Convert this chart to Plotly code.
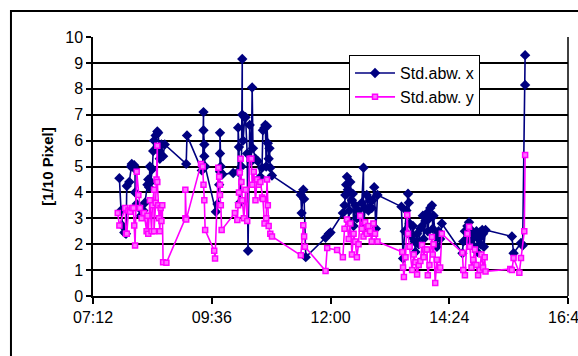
import plotly.graph_objects as go

DAY = "2024-01-01 "

# Std.abw. x  (time, value)
x_times = ["07:44","07:46","07:48","07:50","07:52","07:53","07:56","07:58","07:59","08:02","08:03","08:03",
           "08:05","08:08","08:10","08:13","08:15","08:18","08:19","08:20","08:21","08:22","08:24","08:25",
           "08:26","08:28","08:30","08:31","08:32","08:33","08:35","08:37","08:39","09:05","09:06","09:24",
           "09:25","09:26","09:26","09:27","09:27","09:28","09:41","09:43","09:45","09:46","09:46","09:46",
           "09:47","09:49","10:02","10:08","10:08","10:09","10:10","10:12","10:13","10:13","10:14","10:16",
           "10:17","10:19","10:20","10:22","10:24","10:25","10:26","10:29","10:32","10:35","10:37","10:38",
           "10:40","10:41","10:42","10:43","10:44","10:45","10:46","10:47","10:49","11:24","11:25","11:27",
           "11:28","11:30","11:54","11:58","12:00","12:15","12:17","12:18","12:19","12:20","12:21","12:22",
           "12:23","12:24","12:26","12:27","12:28","12:30","12:32","12:34","12:36","12:38","12:40","12:40",
           "12:42","12:44","12:46","12:48","12:50","12:51","12:53","12:55","12:57","13:26","13:28","13:30",
           "13:32","13:34","13:35","13:36","13:38","13:40","13:42","13:43","13:45","13:47","13:49","13:51",
           "13:52","13:53","13:55","13:57","13:58","14:00","14:01","14:03","14:04","14:05","14:07","14:09",
           "14:11","14:13","14:15","14:40","14:41","14:43","14:45","14:46","14:48","14:49","14:51","14:52",
           "14:54","14:55","14:57","14:58","15:00","15:01","15:02","15:04","15:05","15:06","15:08","15:40",
           "15:42","15:51","15:53","15:56","15:56"]
x_vals = [4.55,3.3,2.7,2.45,2.4,4.25,4.4,5.0,5.1,5.05,4.9,4.0,
          3.55,3.4,3.1,3.3,3.6,4.3,4.5,4.2,5.0,4.4,4.9,5.6,
          6.0,6.2,6.35,6.3,5.6,5.3,5.85,5.4,5.85,5.1,6.2,4.85,
          5.0,7.1,6.4,5.85,5.4,5.0,3.25,3.55,4.3,4.8,5.5,6.3,
          5.0,4.7,4.75,4.8,6.5,5.75,3.6,5.0,9.15,7.0,6.0,6.9,
          6.9,5.5,1.75,6.6,5.2,8.05,5.7,5.3,5.2,4.6,4.95,6.4,
          6.5,6.6,5.0,6.55,5.9,5.3,5.7,4.95,4.65,3.9,3.2,4.1,
          3.75,1.5,2.25,2.4,2.45,3.2,3.5,3.9,4.3,4.6,4.1,2.9,
          3.3,4.4,3.7,3.95,2.7,3.5,3.0,3.3,3.0,3.6,4.95,2.65,
          3.4,3.9,3.3,3.7,3.4,3.7,4.2,2.6,3.9,3.45,1.45,2.5,
          3.3,3.95,3.6,2.8,2.3,2.7,2.1,1.7,2.4,2.0,2.6,2.7,
          3.1,2.2,2.9,3.2,2.5,3.0,3.4,3.5,2.6,3.1,2.3,1.9,
          2.5,2.2,2.8,1.65,2.1,2.5,2.2,2.7,2.85,2.6,2.0,2.35,
          1.9,2.3,2.5,1.7,2.2,2.45,2.0,2.55,2.4,1.9,2.55,2.3,
          1.65,2.05,1.95,8.15,9.3]

# Std.abw. y  (time, value)
y_times = ["07:42","07:44","07:51","07:52","07:53","07:55","07:57","07:59","08:01","08:02","08:03","08:05",
           "08:07","08:09","08:11","08:14","08:17","08:18","08:19","08:21","08:23","08:24","08:26","08:26",
           "08:28","08:29","08:30","08:30","08:31","08:32","08:33","08:34","08:35","08:36","08:37","08:41",
           "09:04","09:04","09:05","09:23","09:25","09:26","09:27","09:28","09:39","09:40","09:44","09:45",
           "09:46","09:46","09:47","09:48","10:04","10:07","10:08","10:09","10:10","10:11","10:12","10:13",
           "10:15","10:17","10:19","10:22","10:24","10:25","10:27","10:29","10:31","10:33","10:35","10:37",
           "10:38","10:40","10:42","10:43","10:44","10:45","10:47","10:49","11:24","11:27","11:28","11:29",
           "11:54","11:56","12:08","12:15","12:17","12:20","12:22","12:24","12:26","12:28","12:30","12:32",
           "12:34","12:36","12:38","12:40","12:42","12:44","12:46","12:48","12:50","12:52","12:54","12:57",
           "13:27","13:28","13:29","13:31","13:33","13:34","13:36","13:39","13:41","13:43","13:45","13:47",
           "13:49","13:51","13:53","13:55","13:57","13:58","14:00","14:03","14:04","14:05","14:07","14:09",
           "14:11","14:13","14:15","14:40","14:41","14:43","14:46","14:48","14:49","14:51","14:53","14:55",
           "14:57","14:59","15:01","15:03","15:05","15:07","15:08","15:38","15:40","15:42","15:49","15:51",
           "15:55","15:56"]
y_vals = [3.2,2.72,3.4,2.4,2.4,3.3,3.25,3.4,3.4,2.72,1.95,4.8,
          3.9,3.4,3.0,3.2,2.5,3.1,2.4,3.7,2.5,3.5,4.1,2.5,
          3.6,4.5,5.8,4.4,3.5,3.0,2.5,3.4,2.9,3.5,1.3,1.28,
          3.0,4.1,2.95,5.1,5.0,4.3,3.7,2.55,1.75,1.45,4.95,4.6,
          4.3,3.9,3.5,2.55,3.2,2.93,3.5,4.0,4.77,5.3,4.4,3.7,
          3.0,4.1,2.9,5.3,5.3,4.3,4.8,3.7,4.5,4.3,4.4,3.8,
          3.75,2.8,3.0,4.5,3.5,2.7,2.4,2.3,1.57,2.73,2.3,1.9,
          0.97,1.85,1.78,1.5,2.6,2.95,2.2,2.8,1.6,2.4,2.1,1.5,
          2.0,3.1,2.6,2.3,2.85,2.4,2.7,2.5,2.1,2.8,2.4,2.1,
          1.7,1.1,0.73,1.5,3.13,2.4,1.9,1.0,1.6,1.3,0.83,1.2,
          1.35,1.97,1.5,1.8,1.8,0.8,1.2,2.28,1.6,2.0,0.5,1.4,
          1.0,1.1,2.4,1.67,1.0,0.8,2.4,2.67,1.9,1.1,1.4,1.8,
          1.2,0.8,1.0,1.6,1.1,1.5,0.95,1.04,1.0,1.47,0.9,1.47,
          2.5,5.44]

series_names = ["Std.abw. x", "Std.abw. y"]
y_title = "[1/10 Pixel]"

FONT = "Arial, Liberation Sans, sans-serif"

fig = go.Figure()
fig.add_trace(go.Scatter(
    x=[DAY + t for t in x_times], y=x_vals, mode="lines+markers", name=series_names[0],
    line=dict(color="#000080", width=1.6),
    marker=dict(symbol="diamond", size=8, color="#000080"),
))
fig.add_trace(go.Scatter(
    x=[DAY + t for t in y_times], y=y_vals, mode="lines+markers", name=series_names[1],
    line=dict(color="#FF00FF", width=1.6),
    marker=dict(symbol="square", size=5, color="#FF70FF", line=dict(color="#FF00FF", width=1.5)),
))

fig.update_layout(
    width=578, height=356,
    margin=dict(l=93, r=10.3, t=37, b=60, autoexpand=False),
    paper_bgcolor="white", plot_bgcolor="white",
    font=dict(family=FONT, size=16, color="black"),
    showlegend=True,
    legend=dict(x=0.539, y=0.93, xanchor="left", yanchor="top",
                bgcolor="white", bordercolor="black", borderwidth=1,
                font=dict(family=FONT, size=16, color="black"),
                itemwidth=40, tracegroupgap=0),
    xaxis=dict(
        type="date", automargin=False,
        range=[DAY + "07:12", DAY + "16:48"],
        tick0=DAY + "07:12", dtick=8640000, tickformat="%H:%M",
        showgrid=False, zeroline=False,
        showline=True, linecolor="black", linewidth=1.5,
        ticks="outside", ticklen=6, tickcolor="black", tickwidth=1.5,
        tickfont=dict(family=FONT, size=16, color="black"),
        ticklabeloverflow="allow",
    ),
    yaxis=dict(
        range=[0, 10], dtick=1, tick0=0, automargin=False,
        showgrid=True, gridcolor="black", gridwidth=1.5,
        zeroline=False,
        showline=True, linecolor="black", linewidth=1.5,
        ticks="outside", ticklen=5, tickcolor="black", tickwidth=1.5,
        tickfont=dict(family=FONT, size=16, color="black"),
        title=dict(text="<b>" + y_title + "</b>", font=dict(family=FONT, size=15, color="black"),
                   standoff=8),
    ),
    shapes=[
        dict(type="rect", xref="paper", yref="paper", x0=-0.1727, x1=1.2, y0=-0.5, y1=1.1004,
             line=dict(color="black", width=2), fillcolor="rgba(0,0,0,0)", layer="below"),
        dict(type="line", xref="paper", yref="paper", x0=1, x1=1, y0=0, y1=1,
             line=dict(color="black", width=1.5)),
    ],
)

fig.write_html("out.html")
